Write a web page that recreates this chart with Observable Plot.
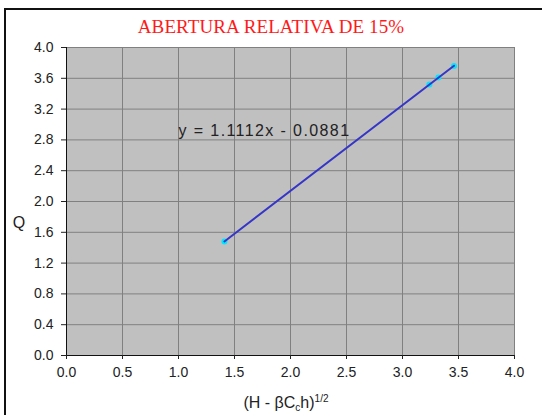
<!DOCTYPE html>
<html>
<head>
<meta charset="utf-8">
<script src="https://cdn.jsdelivr.net/npm/d3@7"></script>
<script src="https://cdn.jsdelivr.net/npm/@observablehq/plot@0.6"></script>
<style>
  html, body { margin: 0; padding: 0; background: #fff; }
  body { position: relative; width: 542px; height: 415px; overflow: hidden; }
  #border { position: absolute; left: 4px; top: 8px; width: 600px; height: 500px;
            border: 2px solid #111; z-index: 5; pointer-events: none; box-sizing: border-box; }
  #title { height: 40px; box-sizing: border-box; padding-top: 17px; line-height: 20px;
           font-family: "Liberation Serif", "Times New Roman", serif; font-size: 19px;
           color: #ff1a1a; text-align: center; letter-spacing: 0.1px; }
  #chart svg { display: block; background: transparent; }
</style>
</head>
<body>
<div id="border"></div>
<div id="title"></div>
<div id="chart"></div>
<script>
// ---- data ----
const title = "ABERTURA RELATIVA DE 15%";
const xValues = [1.41, 3.24, 3.32, 3.46];
const yValues = [1.48, 3.52, 3.61, 3.76];
const xTicks = [0, 0.5, 1.0, 1.5, 2.0, 2.5, 3.0, 3.5, 4.0];
const yTicks = [0, 0.4, 0.8, 1.2, 1.6, 2.0, 2.4, 2.8, 3.2, 3.6, 4.0];
const equationText = "y = 1.1112x - 0.0881";
const equationAt = [1.0, 2.92];
const yLabel = "Q";

const points = xValues.map((x, i) => ({x, y: yValues[i]}));

document.getElementById("title").textContent = title;

const fmt = d => d.toFixed(1);
const plot = Plot.plot({
  width: 542,
  height: 375,
  marginTop: 7,
  marginBottom: 60,
  marginLeft: 66,
  marginRight: 28,
  style: {fontFamily: "'Liberation Sans', Arial, sans-serif", background: "transparent", color: "#222"},
  x: {domain: [0, 4]},
  y: {domain: [0, 4]},
  marks: [
    Plot.frame({fill: "#c0c0c0"}),
    Plot.gridX(xTicks, {stroke: "#808080", strokeOpacity: 1}),
    Plot.gridY(yTicks, {stroke: "#808080", strokeOpacity: 1}),
    Plot.frame({stroke: "#808080"}),
    Plot.ruleX([0], {stroke: "#111"}),
    Plot.ruleY([0], {stroke: "#111"}),
    Plot.axisX(xTicks, {tickFormat: fmt, tickSize: 4, tickPadding: 8, fontSize: 14, label: null, color: "#222"}),
    Plot.axisY(yTicks, {tickFormat: fmt, tickSize: 5, tickPadding: 8, fontSize: 14, label: null, color: "#222"}),
    Plot.dot(points, {x: "x", y: "y", r: 3, fill: "#00e8ff", stroke: "none"}),
    Plot.linearRegressionY(points, {x: "x", y: "y", ci: 0, stroke: "#3535c8", strokeWidth: 2}),
    Plot.text([equationText], {x: () => equationAt[0], y: () => equationAt[1], text: d => d,
      textAnchor: "start", fontSize: 16, fill: "#222"})
  ]
});
document.getElementById("chart").appendChild(plot);

const svg = d3.select(plot);
svg.selectAll("text")
  .filter(function() { return this.textContent === equationText; })
  .style("letter-spacing", "1.4px");

// axis titles with sub/superscripts
const xt = svg.append("text")
  .attr("x", 286).attr("y", 368)
  .attr("text-anchor", "middle")
  .attr("font-size", 16).attr("fill", "#222")
  .attr("font-family", "'Liberation Sans', Arial, sans-serif");
xt.append("tspan").text("(H - \u03B2C");
xt.append("tspan").attr("font-size", 10).attr("dy", 3).text("c");
xt.append("tspan").attr("dy", -3).text("h)");
xt.append("tspan").attr("font-size", 10).attr("dy", -6).text("1/2");

svg.append("text")
  .attr("x", 19).attr("y", 188)
  .attr("text-anchor", "middle")
  .attr("font-size", 16).attr("fill", "#222")
  .attr("font-family", "'Liberation Sans', Arial, sans-serif")
  .text(yLabel);
</script>
</body>
</html>
